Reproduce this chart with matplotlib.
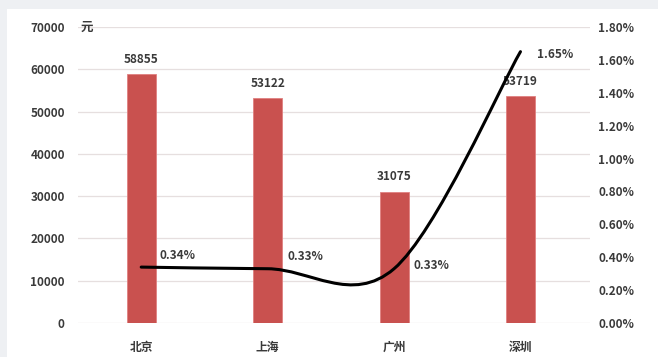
import matplotlib
matplotlib.use("Agg")
import matplotlib.pyplot as plt
from matplotlib.path import Path
from matplotlib.patches import PathPatch, Rectangle
import numpy as np

plt.rcParams['font.family'] = ['Noto Sans CJK SC', 'DejaVu Sans']

cities = ['北京', '上海', '广州', '深圳']
income = [58855, 53122, 31075, 53719]
ratio = [0.34, 0.33, 0.33, 1.65]
ratio_labels = ['0.34%', '0.33%', '0.33%', '1.65%']
left_ticks = [0, 10000, 20000, 30000, 40000, 50000, 60000, 70000]
right_ticks = [0.0, 0.2, 0.4, 0.6, 0.8, 1.0, 1.2, 1.4, 1.6, 1.8]

W, H = 658, 357
fig = plt.figure(figsize=(W/100, H/100), dpi=100)
fig.patch.set_facecolor('#eef0f3')
fig.patches.append(Rectangle((7/W, 0), (W-7)/W, 348/H, transform=fig.transFigure,
                             facecolor='white', edgecolor='none', zorder=-10))

ax = fig.add_axes([78/W, 34/H, 512/W, 296/H])
ax.set_facecolor('none')
x = np.arange(len(cities))
txt = '#3a3a3a'
bar_color = '#c9514f'

ax.bar(x, income, width=0.23, color=bar_color, edgecolor='#e08080', linewidth=0.6, zorder=2)
ax.set_xlim(-0.5, 3.55)
ax.set_ylim(0, 70000)
ax.set_yticks(left_ticks)
ax.set_yticklabels([str(v) for v in left_ticks])
ax.yaxis.grid(True, color='#e6dfdf', linewidth=0.9, zorder=0)
ax.set_axisbelow(True)
for s in ax.spines.values():
    s.set_visible(False)
ax.tick_params(axis='both', length=0, labelsize=8.5, colors=txt)
ax.tick_params(axis='y', pad=9.5)
ax.set_xticks(x)
ax.set_xticklabels(cities, fontweight='bold')
ax.tick_params(axis='x', pad=13)
for lbl in ax.get_yticklabels():
    lbl.set_fontweight('bold')

for xi, v in zip(x, income):
    ax.annotate(str(v), (xi, v), xytext=(0, 6), textcoords='offset points',
                ha='center', va='bottom', fontsize=8.5, fontweight='bold', color=txt)

ax.text(-0.5 + 0.02, 70000, '元', ha='left', va='center', fontsize=9, fontweight='bold',
        color=txt, transform=ax.transData)

ax2 = ax.twinx()
ax2.set_ylim(0, 1.8)
ax2.set_yticks(right_ticks)
ax2.set_yticklabels([f'{v:.2f}%' for v in right_ticks])
for s in ax2.spines.values():
    s.set_visible(False)
ax2.tick_params(axis='y', length=0, labelsize=8.5, colors=txt, pad=6)
for lbl in ax2.get_yticklabels():
    lbl.set_fontweight('bold')

# smooth line (Catmull-Rom bezier through the data points)
px = np.array(x, dtype=float)
py = np.array(ratio, dtype=float)
n = len(px)
verts = [(px[0], py[0])]
codes = [Path.MOVETO]
for i in range(n - 1):
    p0 = np.array([px[max(i-1, 0)], py[max(i-1, 0)]])
    p1 = np.array([px[i], py[i]])
    p2 = np.array([px[i+1], py[i+1]])
    p3 = np.array([px[min(i+2, n-1)], py[min(i+2, n-1)]])
    c1 = p1 + (p2 - p0) / 6
    c2 = p2 - (p3 - p1) / 6
    verts += [tuple(c1), tuple(c2), tuple(p2)]
    codes += [Path.CURVE4] * 3
ax2.add_patch(PathPatch(Path(verts, codes), facecolor='none', edgecolor='black',
                        linewidth=2.2, capstyle='round', zorder=3))

offsets = [(13, 4), (14, 4), (14, 2), (12, -2)]
vas = ['bottom', 'bottom', 'center', 'center']
for xi, v, lab, off, va in zip(x, ratio, ratio_labels, offsets, vas):
    ax2.annotate(lab, (xi, v), xytext=off, textcoords='offset points',
                 ha='left', va=va, fontsize=8.5, fontweight='bold', color=txt)

fig.savefig('out.png', dpi=100, facecolor=fig.get_facecolor())
